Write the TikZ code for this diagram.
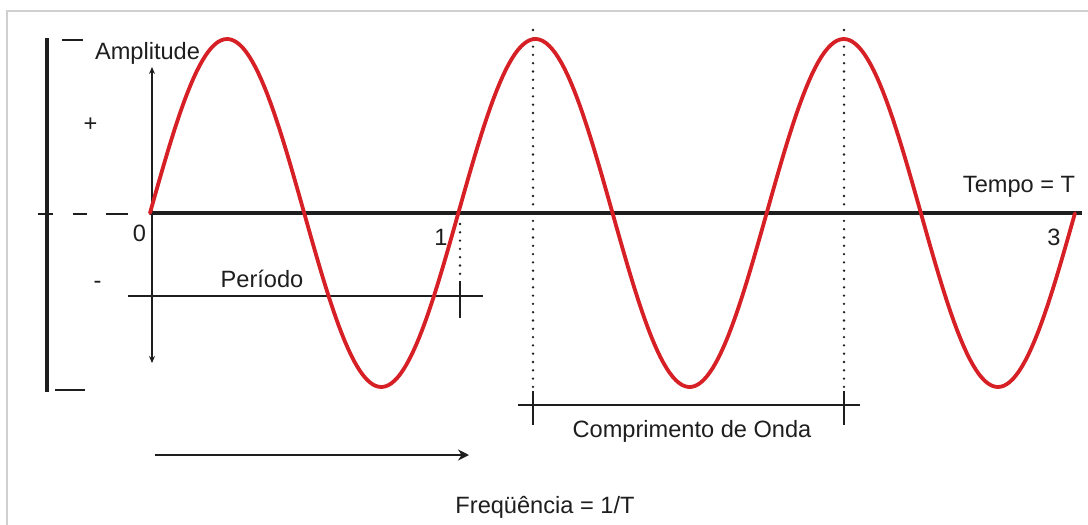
\documentclass[tikz,border=0pt]{standalone}
\usepackage{fontspec}
\setmainfont{Liberation Sans}
\usetikzlibrary{arrows.meta}
\definecolor{wave}{RGB}{214,32,38}
\definecolor{framegray}{RGB}{208,208,208}
\definecolor{ink}{RGB}{30,30,30}
\begin{document}
\begin{tikzpicture}[x=1pt,y=-1pt,
  lbl/.style={font=\fontsize{23.6}{28}\selectfont, text=ink, inner sep=0pt, anchor=base},
  guide/.style={draw=ink, line width=1.6pt},
  heavy/.style={draw=ink, line width=4.5pt},
  dotline/.style={draw=ink, line width=2.6pt, line cap=round, dash pattern=on 0pt off 8.3pt},
  wavestyle/.style={draw=wave, line width=3.8pt, line join=round, line cap=round}]
\useasboundingbox (0,0) rectangle (1088,525);
\fill[white] (0,0) rectangle (1088,525);
% frame
\draw[framegray, line width=2pt] (7,525) -- (7,11) -- (1088,11);
% left bracket
\coordinate (brtop) at (47,38);
\coordinate (brbot) at (47,392);
\draw[heavy, line width=4pt] (brtop) -- (brbot);
\draw[guide] (62,40) -- (83,40);
\draw[guide] (55,390) -- (85,390);
\draw[guide] (38,214) -- (53,214);
\draw[guide] (73,214) -- (87,214);
\draw[guide] (106,214) -- (128,214);
% time axis
\coordinate (axstart) at (150,213);
\coordinate (axend) at (1082,213);
\draw[heavy] (axstart) -- (axend);
% amplitude arrow
\coordinate (amptop) at (152,67);
\coordinate (ampbot) at (152,363);
\draw[guide, {Stealth[length=7pt,width=6pt]}-{Stealth[length=7pt,width=6pt]}] (amptop) -- (ampbot);
% periodo
\coordinate (perL) at (128,296);
\coordinate (perR) at (483,296);
\draw[guide] (perL) -- (perR);
\draw[guide] (460,281) -- (460,318);
\draw[dotline] (460,224) -- (460,278);
% wavelength dotted markers
\draw[dotline] (533,30) -- (533,392);
\draw[dotline] (844,30) -- (844,392);
\coordinate (wlL) at (518,405);
\coordinate (wlR) at (860,405);
\draw[guide] (wlL) -- (wlR);
\draw[guide] (533,391) -- (533,425);
\draw[guide] (844,391) -- (844,425);
% frequency arrow
\coordinate (fqL) at (155,455);
\coordinate (fqR) at (469,455);
\draw[guide, line width=1.8pt, -{Stealth[length=11pt,width=11pt]}] (fqL) -- (fqR);
% wave
\draw[wavestyle] plot[domain=0:6, samples=300] ({150+154.17*\x},{213-174*sin(180*\x)});
% labels
\node[lbl] (amp) at (147.5,59) {Amplitude};
\node[lbl, anchor=center] (plus) at (90.5,125) {+};
\node[lbl, anchor=center] (minus) at (97.5,285) {-};
\node[lbl] (zero) at (139.5,241) {0};
\node[lbl] (one) at (441,245) {1};
\node[lbl] (three) at (1054,245) {3};
\node[lbl] (tempo) at (1019,192) {Tempo = T};
\node[lbl] (periodo) at (262,287) {Período};
\node[lbl] (comp) at (692,437) {Comprimento de Onda};
\node[lbl] (freq) at (545,513) {Freqüência = 1/T};
\end{tikzpicture}
\end{document}
